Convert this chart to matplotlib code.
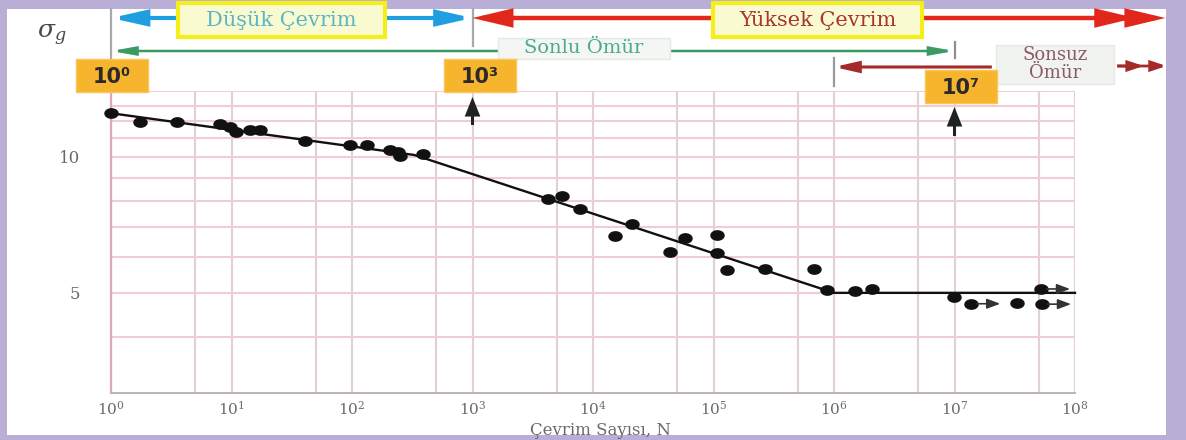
import numpy as np
import matplotlib
matplotlib.use("Agg")
import matplotlib.pyplot as plt
from matplotlib import transforms as mtransforms
from matplotlib.patches import Rectangle, FancyArrowPatch
from matplotlib.lines import Line2D
from matplotlib.path import Path
from matplotlib.ticker import NullLocator

# ---------------- data ----------------
cycles = [1, 1.74, 3.5, 8.0, 9.7, 11, 14.2, 17.3, 40.7, 96, 132, 207, 240, 250, 385,
          4260, 5490, 7800, 15200, 20900, 43500, 58000, 106000, 107000, 129000,
          268000, 676000, 870000, 1.49e6, 2.05e6, 9.9e6, 3.3e7]
stress = [12.5, 11.94, 11.96, 11.81, 11.67, 11.38, 11.48, 11.48, 10.85, 10.63, 10.63,
          10.36, 10.28, 10.03, 10.15,
          8.06, 8.21, 7.67, 6.69, 7.11, 6.17, 6.61, 6.72, 6.12, 5.62,
          5.64, 5.64, 5.08, 5.06, 5.10, 4.89, 4.74]
runout_cycles = [1.37e7, 5.2e7, 5.3e7]
runout_stress = [4.73, 5.10, 4.72]
fit_cycles = [1, 330, 1e6, 1e8]
fit_stress = [12.5, 10.1, 5.0, 5.0]

x_ticks = [1e0, 1e1, 1e2, 1e3, 1e4, 1e5, 1e6, 1e7, 1e8]
x_tick_labels = [r"$10^{0}$", r"$10^{1}$", r"$10^{2}$", r"$10^{3}$", r"$10^{4}$",
                 r"$10^{5}$", r"$10^{6}$", r"$10^{7}$", r"$10^{8}$"]
y_ticks = [5, 10]
y_tick_labels = ["5", "10"]
x_grid = [1, 5, 10, 50, 1e2, 5e2, 1e3, 5e3, 1e4, 5e4, 1e5, 5e5, 1e6, 5e6, 1e7, 5e7, 1e8]
y_grid = [4, 5, 6, 7, 8, 9, 10, 11, 12, 13, 14]

x_label = "Çevrim Sayısı, N"
y_label = r"$\sigma_g$"

# ---------------- figure ----------------
plt.rcParams["font.family"] = ["DejaVu Serif"]
plt.rcParams["mathtext.fontset"] = "dejavuserif"

W, H = 1186, 440
fig = plt.figure(figsize=(W / 100, H / 100), dpi=100)
fig.patch.set_facecolor("#b9aed6")
PX = mtransforms.Affine2D().scale(1, -1).translate(0, H)  # pixel coords from top-left

fig.add_artist(Rectangle((7, 9), 1159, 426, transform=PX, facecolor="white",
                         edgecolor="none", zorder=-2))

ax = fig.add_axes([111 / W, 1 - 393 / H, (1075 - 111) / W, (393 - 91) / H])
ax.set_facecolor("white")
ax.set_xscale("log")
ax.set_yscale("log")
ax.set_xlim(1, 1e8)
ax.set_ylim(3, 14)

for gx in x_grid:
    ax.axvline(gx, color="#e2d0d8", lw=1.5, zorder=0)
for gy in y_grid:
    ax.axhline(gy, color="#f0ccd4", lw=1.5, zorder=0)

for s in ["top", "right"]:
    ax.spines[s].set_visible(False)
ax.spines["left"].set_color("#dba8c0")
ax.spines["left"].set_linewidth(1.6)
ax.spines["bottom"].set_color("#bdb0bd")
ax.spines["bottom"].set_linewidth(1.4)

ax.set_xticks(x_ticks)
ax.set_xticklabels(x_tick_labels)
ax.set_yticks(y_ticks)
ax.set_yticklabels(y_tick_labels)
ax.xaxis.set_minor_locator(NullLocator())
ax.yaxis.set_minor_locator(NullLocator())
ax.tick_params(axis="x", length=0, pad=5, labelsize=11, labelcolor="#6a6a6a")
ax.tick_params(axis="y", length=0, pad=22, labelsize=12, labelcolor="#6a6a6a")
fig.text(600, 430, x_label, transform=PX, ha="center", va="center", fontsize=12,
         color="#6a6a6a")

# fitted S-N line
ax.plot(fit_cycles, fit_stress, color="#111111", lw=1.7, zorder=3, clip_on=False)

# elliptical dots (source image is horizontally stretched)
t = np.linspace(0, 2 * np.pi, 48)
ell = Path(np.column_stack([1.4 * np.cos(t), np.sin(t)]), closed=True)
ax.plot(cycles, stress, linestyle="none", marker=ell, ms=9.4, color="#111111",
        zorder=4, clip_on=False)
ax.plot(runout_cycles, runout_stress, linestyle="none", marker=ell, ms=9.4,
        color="#111111", zorder=4, clip_on=False)
for rc, rs in zip(runout_cycles, runout_stress):
    ax.annotate("", xy=(rc * 1.75, rs), xytext=(rc * 1.12, rs),
                arrowprops=dict(arrowstyle="-|>,head_length=0.8,head_width=0.3",
                                color="#333333", lw=1.2, shrinkA=0, shrinkB=0,
                                mutation_scale=10), zorder=4)

# ---------------- top annotations ----------------
T = mtransforms.blended_transform_factory(ax.transData, PX)


def arrow(x0, y0, x1, y1, style, color, lw, trans=T, z=6):
    p = FancyArrowPatch((x0, y0), (x1, y1), transform=trans, arrowstyle=style,
                        color=color, lw=lw, mutation_scale=10, shrinkA=0, shrinkB=0,
                        joinstyle="miter", capstyle="butt", zorder=z)
    fig.add_artist(p)


def vline(x, y0, y1, color="#a9a9a9", lw=1.6):
    fig.add_artist(Line2D([x, x], [y0, y1], transform=T, color=color, lw=lw, zorder=5))


def box(x0, y0, x1, y1, fc, ec, lw=0, z=6):
    fig.add_artist(Rectangle((x0, y0), x1 - x0, y1 - y0, transform=PX, facecolor=fc,
                             edgecolor=ec, lw=lw, zorder=z))


# vertical markers
vline(1, 9, 58)
vline(1e3, 9, 46)
vline(1e7, 42, 58, color="#8f8f8f")
vline(1e6, 58, 86, color="#9a9a9a")

# low cycle (blue) arrow
arrow(1, 18, 1e3, 18, "<|-|>,head_length=2.0,head_width=0.45", "#1f9fe0", 3.0)
# high cycle (red) arrow with double head
arrow(1e3, 18, 10 ** 8.75, 18, "<|-|>,head_length=2.1,head_width=0.5", "#e1261c", 3.2)
arrow(10 ** 8.2, 18, 10 ** 8.5, 18, "-|>,head_length=2.1,head_width=0.5", "#e1261c", 3.2)
# finite life (green) arrow
arrow(1, 51, 1e7, 51, "<|-|>,head_length=1.4,head_width=0.25", "#3b9b62", 1.8)
# infinite life (dark red) arrows
arrow(1e6, 67, 10 ** 7.31, 67, "<|-,head_length=1.4,head_width=0.32", "#a52a2a", 2.2)
arrow(10 ** 8.35, 66, 10 ** 8.76, 66, "-|>,head_length=0.9,head_width=0.3", "#a52a2a", 2.0)
arrow(10 ** 8.35, 66, 10 ** 8.57, 66, "-|>,head_length=0.9,head_width=0.3", "#a52a2a", 2.0)
# black upward arrows
arrow(1e3, 125, 1e3, 97, "-|>,head_length=1.0,head_width=0.4", "#222222", 2.2)
arrow(1e7, 136, 1e7, 107, "-|>,head_length=1.0,head_width=0.4", "#222222", 2.2)

# label boxes
box(178, 3, 385, 37, "#fafad0", "#f4ee1a", lw=3.0)
fig.text(281, 20, "Düşük Çevrim", transform=PX, ha="center", va="center",
         fontsize=15, color="#5ab6c8", zorder=7)
box(713, 3, 922, 37, "#fafad0", "#f4ee1a", lw=3.0)
fig.text(818, 20, "Yüksek Çevrim", transform=PX, ha="center", va="center",
         fontsize=15, color="#a83434", zorder=7)
box(498, 38, 670, 59, "#f3f6f2", "#e3e9e3", lw=1.0)
fig.text(584, 48, "Sonlu Ömür", transform=PX, ha="center", va="center",
         fontsize=14, color="#4cab8a", zorder=7)
box(996, 45, 1114, 84, "#f1f3f0", "#e6e9e5", lw=1.0)
fig.text(1055, 64, "Sonsuz\nÖmür", transform=PX, ha="center", va="center",
         fontsize=13, color="#8a5a68", linespacing=1.05, zorder=7)

# orange cycle boxes
for (cx, y0, y1, lab) in [(112, 59, 92, "10⁰"), (480, 59, 92, "10³"), (961, 70, 103, "10⁷")]:
    box(cx - 36, y0, cx + 36, y1, "#f7b52e", "#f9c65a", lw=1.0)
    fig.text(cx, (y0 + y1) / 2 + 1, lab, transform=PX, ha="center", va="center",
             fontsize=15, fontweight="bold", family="DejaVu Sans", color="#2a2a2a",
             zorder=7)

# y-axis symbol
fig.text(52, 35, y_label, transform=PX, ha="center", va="center", fontsize=18,
         color="#4a4a4a")

fig.savefig("out.png", dpi=100, facecolor=fig.get_facecolor())
